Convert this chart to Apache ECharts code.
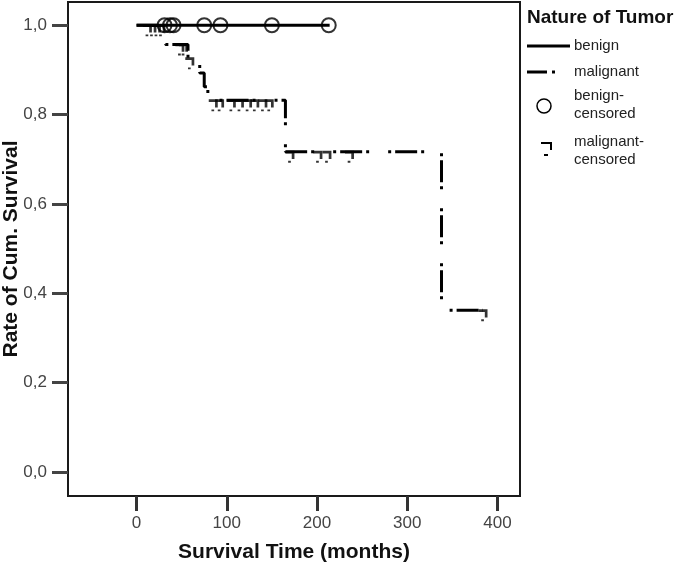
<!DOCTYPE html>
<html>
<head>
<meta charset="utf-8">
<script src="https://cdn.jsdelivr.net/npm/echarts@6/dist/echarts.min.js"></script>
<style>
  html, body { margin: 0; padding: 0; background: #fff; }
  #main { width: 680px; height: 570px; }
</style>
</head>
<body>
<div id="main"></div>
<script>
// axis ticks
var xTicks = [0, 100, 200, 300, 400];
var yTicks = [0, 0.2, 0.4, 0.6, 0.8, 1.0];

// benign: no events, only censored cases
var benignTimes = [0, 214];
var benignSurv = [1.0, 1.0];
var benignCensTimes = [31, 37, 41, 75, 93, 150, 213];
var benignCensSurv = [1.0, 1.0, 1.0, 1.0, 1.0, 1.0, 1.0];

// malignant: step function (time of drop, survival after drop)
var malTimes = [0, 32, 57, 70, 75, 79, 165, 338, 384];
var malSurv = [1.0, 0.957, 0.926, 0.893, 0.862, 0.832, 0.717, 0.362, 0.362];
var malCensTimes = [12, 17, 22, 27, 48, 52, 59, 85, 92, 105, 114, 123, 131, 140, 147, 170, 201, 211, 236, 384];
var malCensSurv = [1.0, 1.0, 1.0, 1.0, 0.957, 0.957, 0.926, 0.832, 0.832, 0.832, 0.832, 0.832, 0.832, 0.832, 0.832, 0.717, 0.717, 0.717, 0.717, 0.362];

function pairs(xs, ys) {
  return xs.map(function (x, i) { return [x, ys[i]]; });
}

var font = 'Liberation Sans, Arial, sans-serif';
// censored mark of the malignant group: a small hook with a dash below
var bracket = 'path://M0 0H10V3H0Z M7 0H10V9H7Z M3 11H6V13H3Z';

var option = {
  animation: false,
  backgroundColor: '#fff',
  grid: {
    left: 68, top: 2, right: 160, bottom: 74,
    containLabel: false, outerBoundsMode: 'none',
    show: true, borderColor: '#1a1a1a', borderWidth: 2
  },
  xAxis: {
    type: 'value',
    min: -76, max: 425,
    name: 'Survival Time (months)',
    nameLocation: 'middle',
    nameGap: 46,
    nameMoveOverlap: false,
    nameTextStyle: { fontFamily: font, fontWeight: 'bold', fontSize: 21, color: '#111' },
    splitLine: { show: false },
    axisLine: { show: true, onZero: false, lineStyle: { color: '#1a1a1a', width: 2 } },
    axisTick: { show: true, customValues: xTicks, length: 15, lineStyle: { color: '#333', width: 3 } },
    axisLabel: { customValues: xTicks, margin: 19, fontFamily: font, fontSize: 17, color: '#444' }
  },
  yAxis: {
    type: 'value',
    min: -0.054, max: 1.052,
    name: 'Rate of Cum. Survival',
    nameLocation: 'middle',
    nameGap: 46,
    nameMoveOverlap: false,
    nameTextStyle: { fontFamily: font, fontWeight: 'bold', fontSize: 21, color: '#111' },
    splitLine: { show: false },
    axisLine: { show: true, onZero: false, lineStyle: { color: '#1a1a1a', width: 2 } },
    axisTick: { show: true, customValues: yTicks, length: 16, lineStyle: { color: '#444', width: 3 } },
    axisLabel: {
      customValues: yTicks, margin: 21, fontFamily: font, fontSize: 17, color: '#444',
      formatter: function (v) { return v.toFixed(1).replace('.', ','); }
    }
  },
  series: [
    {
      name: 'benign', type: 'line', data: pairs(benignTimes, benignSurv),
      showSymbol: false, lineStyle: { color: '#000', width: 3 }
    },
    {
      name: 'malignant', type: 'line', step: 'end', data: pairs(malTimes, malSurv),
      showSymbol: false, lineStyle: { color: '#000', width: 3, type: [22, 4, 3, 19, 3, 4] }
    },
    {
      name: 'benign-censored', type: 'scatter', data: pairs(benignCensTimes, benignCensSurv),
      symbol: 'circle', symbolSize: 14,
      itemStyle: { color: 'rgba(0,0,0,0)', borderColor: '#000', borderWidth: 2 }
    },
    {
      name: 'malignant-censored', type: 'scatter', data: pairs(malCensTimes, malCensSurv),
      symbol: bracket, symbolSize: [9, 12], symbolOffset: [0, 5],
      itemStyle: { color: '#000' }
    }
  ],
  graphic: [
    { type: 'text', x: 527, y: 8, style: { text: 'Nature of Tumor', font: 'bold 19px ' + font, fill: '#111' } },
    { type: 'line', shape: { x1: 527, y1: 46, x2: 570, y2: 46 }, style: { stroke: '#000', lineWidth: 3 } },
    { type: 'text', x: 574, y: 46, style: { text: 'benign', font: '15px ' + font, fill: '#222', verticalAlign: 'middle' } },
    { type: 'line', shape: { x1: 527, y1: 72, x2: 547, y2: 72 }, style: { stroke: '#000', lineWidth: 3 } },
    { type: 'rect', shape: { x: 552, y: 70.5, width: 3, height: 3 }, style: { fill: '#000' } },
    { type: 'text', x: 574, y: 72, style: { text: 'malignant', font: '15px ' + font, fill: '#222', verticalAlign: 'middle' } },
    { type: 'circle', shape: { cx: 544, cy: 106, r: 7 }, style: { fill: 'none', stroke: '#000', lineWidth: 1.5 } },
    { type: 'text', x: 574, y: 105, style: { text: 'benign-\ncensored', font: '15px ' + font, fill: '#222', verticalAlign: 'middle', lineHeight: 18 } },
    { type: 'rect', shape: { x: 541, y: 142, width: 11, height: 2 }, style: { fill: '#000' } },
    { type: 'rect', shape: { x: 550, y: 142, width: 2, height: 8 }, style: { fill: '#000' } },
    { type: 'rect', shape: { x: 544, y: 154, width: 4, height: 2 }, style: { fill: '#000' } },
    { type: 'text', x: 574, y: 151, style: { text: 'malignant-\ncensored', font: '15px ' + font, fill: '#222', verticalAlign: 'middle', lineHeight: 18 } }
  ]
};

var myChart = echarts.init(document.getElementById('main'));
myChart.setOption(option);
</script>
</body>
</html>
